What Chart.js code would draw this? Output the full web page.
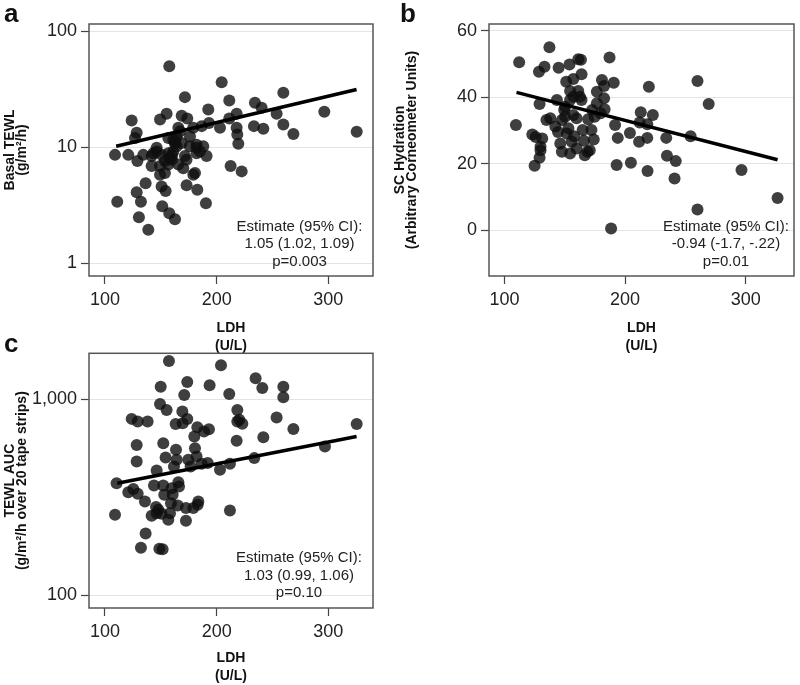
<!DOCTYPE html>
<html>
<head>
<meta charset="utf-8">
<script src="https://cdn.jsdelivr.net/npm/chart.js@4.4.0/dist/chart.umd.min.js"></script>
<style>
html, body { margin: 0; padding: 0; background: #fff; overflow: hidden; }
#wrap { position: relative; width: 800px; height: 685px; }
canvas { position: absolute; }
.tag { position: absolute; font: bold 26px "Liberation Sans", Arial, sans-serif; line-height: 26px; color: #111; }
</style>
</head>
<body>
<div id="wrap">
  <canvas id="chartA" width="400" height="360" style="left:0;top:0;width:400px;height:360px"></canvas>
  <canvas id="chartC" width="400" height="356" style="left:0;top:329px;width:400px;height:356px"></canvas>
  <canvas id="chartB" width="410" height="360" style="left:390px;top:0;width:410px;height:360px"></canvas>
  <div class="tag" style="left:4px;top:0">a</div>
  <div class="tag" style="left:400px;top:0">b</div>
  <div class="tag" style="left:4px;top:330px">c</div>
</div>
<script>
// tick values / labels
const ldhTicks = [100, 200, 300];
const tewlTicks = [1, 10, 100];
const tewlLabels = ['1', '10', '100'];
const hydTicks = [0, 20, 40, 60];
const hydLabels = ['0', '20', '40', '60'];
const aucTicks = [100, 1000];
const aucLabels = ['100', '1,000'];

// panel a: LDH vs basal TEWL
const ldhA = [157.6, 204.5, 171.6, 259.7, 211.3, 234.3, 296.4, 192.5, 240.3, 123.9, 149.3, 155.2, 168.7, 173.7, 193.1,
  211.3, 217.9, 253.7, 217.9, 203, 233.4, 241.8, 259.7, 268.7, 325.4, 218.5, 219.4, 128.4, 126.9, 156.7,
  165.7, 179.1, 186.6, 176.1, 168.7, 182, 188, 109, 120.9, 129, 134.3, 141.8, 143.3, 146.3, 150.7,
  153.7, 149.3, 141.8, 156.7, 161.2, 164.2, 161.2, 164.2, 167.2, 171.6, 165.7, 170.1, 182, 182, 191,
  149.3, 153.7, 179.1, 180.6, 173.1, 150.7, 154.3, 128.4, 136.4, 182.7, 111, 132.2, 190.4, 151.3, 157.6,
  162.7, 130.4, 138.8, 212.5, 222.4, 146.3, 176, 173, 160, 156.7, 158, 160, 162.5, 163, 185];
const tewlA = [49.9, 36.3, 27, 29.4, 25.2, 24.1, 20.2, 21.1, 21.9, 17, 17.3, 19.4, 18.7, 17.7, 16.2,
  17.7, 19.4, 19.4, 14.7, 14.7, 15.2, 14.4, 15.7, 13, 13.6, 12.9, 10.7, 13.3, 12, 12,
  14.7, 14.7, 15.2, 12.4, 10.9, 10.5, 10.2, 8.6, 8.6, 7.6, 8.6, 8.4, 8.9, 9.2, 8.6,
  7.6, 6.9, 6.9, 8.9, 9.2, 10.2, 11.6, 12.4, 13.7, 8.4, 7.1, 6.6, 9.9, 8.9, 8.4,
  5.8, 6.0, 5.8, 6.0, 4.7, 4.6, 4.2, 4.1, 4.9, 4.3, 3.4, 3.4, 3.3, 3.1, 2.7,
  2.4, 2.5, 1.95, 6.9, 6.2, 9.9, 10.2, 7.8, 7.8, 7.1, 8.0, 8.5, 10.8, 11.2, 9.2];
const fitLdhA = [110, 325.3];
const fitTewlA = [10.2, 31.4];

// panel b: LDH vs SC hydration
const ldhB = [112.2, 109.5, 137.3, 128.6, 133.2, 144.9, 153.9, 161.2, 163.4, 163.9, 187.1, 151.2, 157.1, 180.8, 190.6,
  219.7, 260, 269.3, 143.5, 154.4, 161.2, 162.6, 163.9, 157.1, 154.4, 176.6, 182.6, 182.6, 176.6, 129.1,
  134.8, 138, 142.2, 149.5, 147.6, 150.3, 157.1, 159.8, 169.4, 172.7, 174.8, 179.7, 183, 123.1, 125.9,
  131.3, 144.4, 151.7, 157.7, 164.8, 172.1, 191.7, 204, 213, 212.1, 218.4, 223, 193.9, 174, 165.9,
  211.6, 218.4, 234.1, 254.3, 129.9, 129.9, 146.3, 147.6, 154.4, 155.8, 159.8, 166.6, 168.8, 170.7, 129.1,
  125, 193, 204.8, 234.7, 242, 218.6, 241, 296.5, 326.4, 260, 188.4, 153, 150.3];
const hydB = [50.6, 31.7, 55.1, 47.7, 49.2, 48.9, 49.9, 51.5, 51.3, 47, 52, 44.7, 45.5, 45.2, 44.4,
  43.2, 44.9, 38, 39.2, 41.9, 41.9, 40.2, 39.2, 40.2, 39.2, 41.7, 43.4, 39.7, 38.2, 38,
  33.2, 33.7, 31.2, 36.2, 33.2, 34.2, 34.7, 33.7, 33.4, 36.2, 34.2, 35.2, 36.4, 28.8, 28.1,
  27.6, 29.6, 29.1, 28.3, 30.2, 30.2, 31.7, 29.3, 35.5, 32.4, 31.9, 34.7, 27.8, 27.3, 26.9,
  26.6, 27.8, 27.8, 28.3, 25.1, 24.1, 26.1, 23.6, 23.1, 26.6, 24.6, 22.6, 23.6, 24.1, 21.8,
  19.4, 19.6, 20.3, 22.4, 20.8, 17.8, 15.6, 18.1, 9.7, 6.2, 0.5, 30.7, 37.2];
const fitLdhB = [110, 326.4];
const fitHydB = [41.5, 21.2];

// panel c: LDH vs TEWL AUC
const ldhC = [157.3, 203.9, 234.9, 173.7, 193.7, 149.9, 240.9, 259.7, 259.7, 211.3, 171, 149.3, 155.2, 169.3, 218.5,
  123.9, 129.3, 138.2, 163.3, 169.6, 173.7, 218.5, 220.3, 223, 253.7, 268.7, 325.4, 182.7, 188.7, 193.1,
  180, 217.9, 241.8, 297, 128.4, 152.2, 163.6, 180.6, 154.3, 128.4, 164.2, 174.6, 182, 186.6, 192,
  211.9, 233.7, 203, 176.7, 161.8, 146.3, 110.4, 120.9, 125.4, 129.3, 135.8, 143.9, 152.2, 153.1, 159.7,
  165.7, 166.3, 160.6, 165.1, 159.1, 145.7, 147.8, 141.8, 150.7, 156.7, 158.2, 172.5, 179.1, 183.6, 183,
  172.5, 109, 211.9, 136.4, 132.2, 148.7, 151.6, 146.3];
const aucC = [1567, 1490, 1279, 1225, 1178, 1156, 1142, 1156, 1024, 1064, 1052, 946, 882, 866, 882,
  794, 770, 770, 747, 755, 792, 770, 785, 750, 806, 706, 747, 720, 684, 703,
  646, 614, 640, 574, 585, 597, 552, 562, 505, 482, 491, 491, 511, 469, 473,
  469, 501, 437, 454, 454, 433, 373, 336, 349, 330, 301, 363, 363, 326, 352,
  378, 359, 326, 287, 295, 282, 273, 255, 261, 243, 262, 279, 279, 301, 290,
  240, 258, 271, 207, 175, 173, 172, 262];
const fitLdhC = [111, 325.3];
const fitAucC = [373, 645];

const FONT = '"Liberation Sans", Arial, Helvetica, sans-serif';
const dotColor = 'rgba(15, 15, 15, 0.8)';

const toPoints = (xs, ys) => xs.map((x, i) => ({ x: x, y: ys[i] }));

// box around the plot area
const framePlugin = {
  id: 'frame',
  beforeDatasetsDraw(chart) {
    const { ctx, chartArea: a } = chart;
    ctx.save();
    ctx.strokeStyle = '#555';
    ctx.lineWidth = 1.5;
    ctx.strokeRect(a.left, a.top, a.right - a.left, a.bottom - a.top);
    ctx.restore();
  }
};

// estimate text in the lower right corner
const notePlugin = {
  id: 'note',
  afterDatasetsDraw(chart, args, opts) {
    if (!opts.lines) return;
    const ctx = chart.ctx;
    ctx.save();
    ctx.font = '15px ' + FONT;
    ctx.fillStyle = '#222';
    ctx.textAlign = 'center';
    ctx.textBaseline = 'middle';
    opts.lines.forEach((t, i) => ctx.fillText(t, opts.x, opts.y + i * opts.gap));
    ctx.restore();
  }
};

function makePanel(id, cfg) {
  return new Chart(document.getElementById(id), {
    type: 'scatter',
    data: {
      datasets: [
        {
          data: cfg.points,
          pointRadius: 6,
          pointHoverRadius: 6,
          backgroundColor: dotColor,
          borderWidth: 0,
          order: 1
        },
        {
          data: cfg.fit,
          showLine: true,
          borderColor: '#000',
          borderWidth: 3.5,
          pointRadius: 0,
          fill: false,
          order: 0
        }
      ]
    },
    options: {
      responsive: false,
      animation: false,
      devicePixelRatio: 1,
      layout: { padding: cfg.pad },
      plugins: {
        legend: { display: false },
        tooltip: { enabled: false },
        note: cfg.note
      },
      scales: {
        x: {
          type: 'linear',
          min: cfg.xMin,
          max: cfg.xMax,
          afterBuildTicks: s => { s.ticks = ldhTicks.map(v => ({ value: v })); },
          afterFit: s => { s.height = cfg.xH; },
          grid: { color: 'rgba(0,0,0,0)', tickColor: '#444', tickLength: 8, tickWidth: 1.2 },
          border: { display: false },
          ticks: { font: { family: FONT, size: 18 }, color: '#222', padding: 5, maxRotation: 0 },
          title: {
            display: true,
            text: ['LDH', '(U/L)'],
            font: { family: FONT, size: 14, weight: 'bold', lineHeight: 1.28 },
            color: '#111',
            padding: { top: 0, bottom: cfg.xTitlePad }
          }
        },
        y: {
          type: cfg.yType,
          min: cfg.yMin,
          max: cfg.yMax,
          afterBuildTicks: s => { s.ticks = cfg.yTicks.map(v => ({ value: v })); },
          afterFit: s => { s.width = cfg.yW; },
          grid: { color: '#e4e4e4', tickColor: '#444', tickLength: 8, tickWidth: 1.2 },
          border: { display: false },
          ticks: {
            font: { family: FONT, size: 18 },
            color: '#222',
            padding: 4,
            callback: v => cfg.yLabels[cfg.yTicks.indexOf(v)]
          },
          title: {
            display: true,
            text: cfg.yTitle,
            font: { family: FONT, size: 14, weight: 'bold', lineHeight: 0.9 },
            color: '#111',
            padding: { top: 3.7, bottom: 0 }
          }
        }
      }
    },
    plugins: [framePlugin, notePlugin]
  });
}

makePanel('chartA', {
  points: toPoints(ldhA, tewlA),
  fit: toPoints(fitLdhA, fitTewlA),
  pad: { top: 24, right: 27, left: 0, bottom: 0 },
  xMin: 85.7, xMax: 340, xH: 84, xTitlePad: 5,
  yType: 'logarithmic', yMin: 0.78, yMax: 115, yW: 89,
  yTicks: tewlTicks, yLabels: tewlLabels,
  yTitle: ['Basal TEWL', '(g/m²/h)'],
  note: { lines: ['Estimate (95% CI):', '1.05 (1.02, 1.09)', 'p=0.003'], x: 299.5, y: 226.7, gap: 17.6 }
});

makePanel('chartB', {
  points: toPoints(ldhB, hydB),
  fit: toPoints(fitLdhB, fitHydB),
  pad: { top: 24, right: 1, left: 0, bottom: 0 },
  xMin: 87.2, xMax: 340, xH: 84, xTitlePad: 5,
  yType: 'linear', yMin: -13.8, yMax: 62.1, yW: 99,
  yTicks: hydTicks, yLabels: hydLabels,
  yTitle: ['SC Hydration', '(Arbitrary Corneometer Units)'],
  note: { lines: ['Estimate (95% CI):', '-0.94 (-1.7, -.22)', 'p=0.01'], x: 336, y: 226.7, gap: 17.6 }
});

makePanel('chartC', {
  points: toPoints(ldhC, aucC),
  fit: toPoints(fitLdhC, fitAucC),
  pad: { top: 24.3, right: 27, left: 0, bottom: 0 },
  xMin: 85.7, xMax: 340, xH: 77, xTitlePad: 0,
  yType: 'logarithmic', yMin: 86.3, yMax: 1714, yW: 89,
  yTicks: aucTicks, yLabels: aucLabels,
  yTitle: ['TEWL AUC', '(g/m²/h over 20 tape strips)'],
  note: { lines: ['Estimate (95% CI):', '1.03 (0.99, 1.06)', 'p=0.10'], x: 299, y: 229.3, gap: 17.4 }
});
</script>
</body>
</html>
